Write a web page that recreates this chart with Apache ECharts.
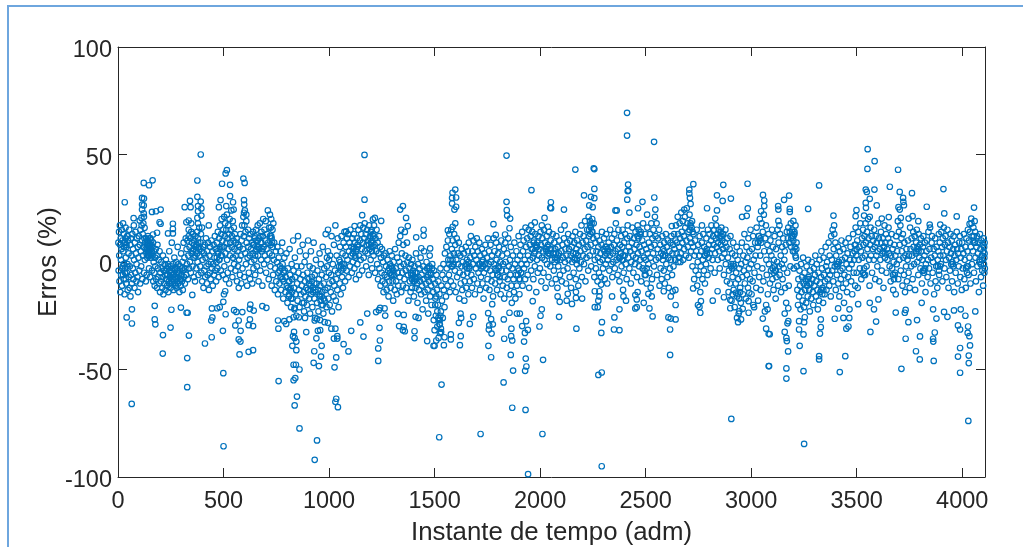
<!DOCTYPE html>
<html>
<head>
<meta charset="utf-8">
<title>Erros</title>
<script src="https://cdn.jsdelivr.net/npm/echarts@6/dist/echarts.min.js"></script>
<style>
  html, body { margin: 0; padding: 0; background: #fff; overflow: hidden; }
  #frame { position: absolute; left: 7px; top: 5px; width: 1100px; height: 540px; border-left: 2px solid #6ea6de; border-top: 2px solid #6ea6de; border-bottom: 2px solid #bcdcf4; }
  #chart { position: absolute; left: 0; top: 0; width: 1023px; height: 547px; }
</style>
</head>
<body>
<div id="frame"></div>
<div id="chart"></div>
<script>
const xTicks = [0, 500, 1000, 1500, 2000, 2500, 3000, 3500, 4000];
const yTicks = [-100, -50, 0, 50, 100];

// values: [instant, error %]
// points that stand clear of the band
const far0 = [[32,27.8],[122,36.8],[147,35.7],[164,38],[114,29.8],[123,29.5],[114,26.7],[122,26.3],[114,24.4],[122,22.6],[111,20.5],[123,21],[103,19.3],[161,23.3],[180,23.6],[202,24.4],[74,20.4],[392,50],[376,37.9],[376,30.3],[316,25.5],[344,25.5],[341,28.4],[392,28.1],[379,26],[395,24.9],[379,23.6],[376,20.5],[395,21.6],[335,19.3],[324,18.5],[347,18],[379,18],[398,16],[430,17],[335,15],[260,17.8],[197,18.5],[202,17.8],[126,15.9],[260,15.4],[185,13.6],[237,13.3],[260,13.3],[166,12.8],[493,36.4],[65,-66],[328,-58.2],[212,-42.6],[328,-44.7],[500,-85.7],[499,-51.7],[497,-32],[412,-37.9],[444,-35],[336,-34.2],[213,-34],[249,-30.5],[174,-26.7],[177,-29],[66,-28.6],[41,-25.8],[66,-22],[174,-20.4],[253,-22.2],[298,-21.2],[325,-23.6],[330,-23.6],[352,-15.3],[442,-27.2],[447,-25.8],[445,-21.6],[470,-21.5],[482,-21],[499,-18.5]];
const far500 = [[510,41.2],[516,42.7],[531,35.9],[594,38.8],[600,36.8],[531,30.6],[486,28.8],[545,27.8],[597,28.8],[598,26.7],[513,26],[478,25.5],[548,24.4],[597,22.9],[608,22],[510,-24.3],[502,-15],[508,-13.6],[572,-36],[580,-37],[576,-43],[619,-41.8],[640,-41],[556,-29.5],[581,-32],[572,-27.2],[589,-23.3],[550,-22.4],[561,-23.2],[619,-29.4],[640,-29.8],[625,-26.7],[625,-21.8],[627,-19.8],[643,-22.6],[684,-20.5],[703,-21.3],[761,-55.4],[758,-27.2],[760,-31],[788,-27.5],[797,-28.8],[812,-26.7],[832,-25.7],[857,-25.7],[886,-26],[837,-21.3],[881,-19],[826,-39],[834,-32.5],[829,-34.5],[837,-35.3],[845,-37],[845,-41],[832,-47.8],[843,-47.8],[860,-50],[840,-54],[832,-55],[848,-62.6],[837,-66.7],[860,-77.4],[943,-83],[932,-92],[892,-32.6],[930,-41.5],[927,-46.9],[952,-48.4],[962,-44],[965,-39],[940,-35.5],[947,-32],[958,-31.7],[932,-27.2],[943,-26.4],[958,-27],[979,-28],[995,-28.3]];
const far1000 = [[1026,-49],[1034,-44.4],[1011,-31],[1023,-35.6],[1030,-31],[1034,-63.6],[1030,-65],[1042,-67.5],[1168,49.8],[1168,29],[1157,21.8],[1121,16.7],[1081,14.2],[1247,19.1],[1217,20.5],[1208,19.8],[1337,24.4],[1350,26],[1365,20.5],[1373,16.7],[1342,15],[1413,11.5],[1448,15],[1448,12.3],[1479,6.3],[1437,6.4],[1092,-41.6],[1069,-38.2],[1039,-34.5],[1039,-35.6],[1105,-32],[1163,-34.7],[1148,-28.1],[1181,-24],[1233,-46],[1233,-40.2],[1241,-36.5],[1239,-30.6],[1266,-24.9],[1223,-23.3],[1236,-22.4],[1242,-21.3],[1263,-21.6],[1326,-24.1],[1354,-24.6],[1332,-29.8],[1354,-30.2],[1350,-31.7],[1359,-32.2],[1405,-32.2],[1405,-35.4],[1410,-25.5],[1424,-26],[1465,-36.8],[1495,-39],[1500,-39]];
const far1500 = [[1585,32.2],[1598,33.7],[1583,29.8],[1602,30],[1583,27.2],[1602,25.7],[1594,24.4],[1598,18],[1586,16.4],[1563,14.7],[1673,18.5],[1779,17.6],[1841,49.5],[1841,28],[1842,24.1],[1844,21.6],[1858,20.2],[1855,15.7],[1834,12.8],[1790,12.6],[1959,33.4],[1975,18.4],[1958,17],[1544,-38.7],[1577,-33.7],[1577,-36],[1620,-38.7],[1624,-34.5],[1508,-36.5],[1519,-35.3],[1547,-35],[1500,-31.7],[1531,-32.6],[1525,-29],[1533,-57],[1522,-81.5],[1718,-80],[1615,-28.3],[1667,-28.8],[1683,-25.5],[1626,-26],[1623,-24],[1755,-39],[1768,-44.3],[1827,-56],[1830,-35.7],[1757,-31.4],[1759,-29.5],[1770,-33.3],[1776,-29],[1768,-26.6],[1754,-23.8],[1773,-19.6],[1828,-26.7],[1861,-43.2],[1872,-50.5],[1868,-67.8],[1931,-68.8],[1943,-98.7],[1868,-36.5],[1863,-34.5],[1864,-31],[1924,-37],[1928,-33],[1934,-27.5],[1942,-31.6],[1915,-29.8],[1932,-44.9],[1935,-48.6],[1929,-50.6],[1997,-30],[1965,-18.2],[1890,-24],[1904,-24],[1855,-23.6]];
const far2000 = [[2051,27.8],[2048,25.2],[2021,20.5],[2008,17],[2037,16.4],[2052,25],[2113,24.4],[2167,43],[2254,43.6],[2257,43.2],[2208,31],[2257,34],[2241,30.3],[2257,29.7],[2233,26.3],[2249,25.5],[2417,36],[2415,33],[2418,33.2],[2412,69.4],[2412,58.8],[2413,29],[2485,28],[2464,25],[2423,23],[2357,24],[2363,24],[2507,22],[2011,-80],[2014,-45.5],[2008,-22],[2002,-25],[2090,-25.5],[2172,-31],[2126,-18],[2093,-18.5],[2083,-16],[2131,-14.8],[2151,-19.5],[2170,-14],[2170,-16.7],[2199,-17],[2276,-52.5],[2292,-51.4],[2292,-95],[2290,-33],[2293,-28],[2259,-21],[2273,-21],[2276,-18],[2281,-16],[2259,-13.6],[2281,-13.6],[2289,-10.5],[2341,-16],[2376,-22],[2352,-25.8],[2350,-31.4],[2376,-31.7],[2393,-13],[2395,-16],[2407,-18],[2451,-21.6],[2458,-21],[2451,-15.4],[2458,-17.4],[2462,-14],[2491,-19]];
const far2500 = [[2540,55.9],[2541,30],[2546,24.4],[2726,36.2],[2707,33.7],[2707,31.9],[2710,29.8],[2713,27],[2683,24.4],[2868,35.9],[2983,36.4],[2838,31],[2865,28.4],[2904,29.5],[2791,25],[2838,24],[2984,24.9],[2957,21],[2979,21.5],[2624,16.7],[2767,17],[2830,20.2],[2518,-21.6],[2533,-25.3],[2529,-16],[2513,-14.8],[2524,-12],[2586,-13.6],[2608,-25.8],[2619,-26.3],[2642,-26.7],[2616,-31.4],[2616,-43.2],[2642,-20],[2619,-16],[2628,-13.6],[2641,-13],[2725,-12.3],[2759,-23.6],[2755,-20.9],[2762,-18.2],[2748,-20],[2818,-18],[2841,-13.6],[2871,-16.4],[2901,-17.6],[2901,-21.5],[2906,-73],[2912,-15],[2928,-14.3],[2933,-26],[2938,-28],[2952,-26.7],[2944,-22.9],[2960,-21.8],[2988,-23.6],[2991,-14.3],[2988,-18.2]];
const far3000 = [[3056,31.2],[3062,28.6],[3062,26],[3047,23.6],[3322,35.6],[3180,30.9],[3156,28.9],[3128,26],[3129,24.4],[3183,24.7],[3183,23.3],[3270,24.7],[3390,21.6],[3393,17],[3200,19.1],[3129,19.1],[3134,17],[3010,-20],[3055,-26.3],[3071,-31],[3083,-33.4],[3083,-48.4],[3071,-20],[3078,-22],[3085,-48.4],[3088,-33.6],[3175,-41.6],[3167,-49.5],[3167,-54.2],[3169,-36.8],[3159,-24],[3176,-21.5],[3176,-27.5],[3172,-28.5],[3159,-32.5],[3167,-35.3],[3230,-39],[3248,-50.8],[3251,-84.6],[3227,-27.5],[3227,-31.4],[3248,-33.7],[3254,-25.7],[3251,-28],[3322,-43.8],[3322,-45.3],[3326,-33.3],[3330,-30.3],[3330,-26.7],[3396,-26.4],[3420,-51.2],[3446,-43.8],[3451,-31],[3461,-30],[3465,-26],[3437,-26],[3412,-21.6]];
const far3500 = [[3552,52.5],[3585,46.9],[3551,43.3],[3543,33.7],[3548,32.6],[3584,33.7],[3562,29.4],[3543,27.5],[3544,25.2],[3595,26.3],[3499,24.1],[3495,21.3],[3535,21.6],[3562,21],[3619,20.2],[3652,20.9],[3696,42.9],[3657,35],[3704,32.6],[3720,29.8],[3721,28],[3724,26.4],[3698,25.5],[3704,24.4],[3709,20.5],[3762,32],[3832,25.7],[3746,20.2],[3765,21.3],[3792,19],[3911,33.9],[3915,22.6],[3974,21.2],[3896,17.4],[4056,25.3],[4043,20.2],[4059,19],[4035,17.7],[3846,17.4],[3507,-19.6],[3565,-32.5],[3592,-27.7],[3582,-22],[3603,-17.4],[3562,-19],[3685,-23.5],[3712,-49.7],[3732,-35.7],[3745,-28],[3786,-27],[3800,-34.6],[3781,-41.5],[3799,-45.3],[3732,-22.3],[3728,-23.6],[3808,-19],[3865,-46],[3862,-35.7],[3863,-37],[3870,-32.8],[3878,-26.3],[3862,-22],[3914,-23.2],[3930,-25.5],[3961,-22.5],[3980,-29.5],[3990,-31.4],[3990,-40],[3980,-44],[3990,-51.5],[4026,-33],[4034,-34.5],[4037,-38.8],[4031,-43.5],[4031,-47],[4029,-73.9],[4028,-30],[4015,-25],[4062,-23],[3993,-22]];

// the dense band, column by column
const band0 = [[2,9],[3,-4],[5,14],[6,3],[7,-9],[9,17],[10,8],[11,-14],[13,11],[14,1],[15,-6],[17,6],[18,15],[19,-11],[21,10],[22,-2],[24,18],[25,5],[27,-8],[28,13],[29,7],[31,-15],[33,-3],[34,9],[36,16],[37,2],[39,-10],[40,7],[42,-5],[44,12],[45,-1],[46,-13],[48,10],[50,4],[51,-7],[53,15],[55,-12],[56,-2],[58,8],[59,-16],[61,11],[62,-6],[64,3],[66,-10],[68,13],[70,-3],[71,6],[73,-8],[75,17],[76,1],[78,-12],[80,9],[82,-5],[83,14],[85,4],[87,-9],[88,-1],[90,11],[92,-7],[94,7],[95,-14],[97,2],[99,12],[101,-4],[103,8],[105,-10],[106,15],[108,5],[110,-2],[112,17],[114,10],[115,-8],[117,13],[118,3],[120,18],[122,7],[123,-5],[125,11],[127,1],[129,9],[131,6],[132,-9],[134,11],[135,4],[136,-6],[138,8],[139,2],[141,10],[142,12],[143,5],[145,7],[146,3],[147,-3],[149,9],[150,6],[151,11],[152,-7],[154,4],[155,8],[157,2],[158,10],[160,5],[161,-4],[163,7],[164,3],[166,9],[167,-9],[169,0],[170,5],[172,-5],[174,-11],[176,2],[177,-2],[179,6],[181,-8],[183,3],[185,-12],[187,8],[189,-3],[191,-7],[193,1],[195,-10],[197,5],[199,-14],[201,-5],[203,-9],[205,0],[207,-3],[209,-12],[211,-7],[213,3],[215,-15],[217,-4],[219,-10],[221,-1],[223,-6],[225,-13],[227,1],[229,-8],[231,-3],[233,-11],[235,-6],[237,-1],[239,-14],[241,-9],[243,5],[245,-4],[247,-7],[249,-12],[251,-2],[253,-10],[255,9],[257,-5],[259,-8],[261,-1],[263,-13],[265,-6],[267,2],[269,-10],[271,-4],[273,-8],[275,0],[277,-12],[279,-3],[281,-7],[283,7],[285,-10],[287,-1],[289,-5],[291,-14],[293,-8],[295,-2],[297,-11],[299,4],[301,-6],[303,-9],[305,0],[307,-13],[309,-4],[311,9],[313,-7],[315,2],[317,-10],[319,-3],[321,11],[323,-6],[325,6],[327,-1],[329,10],[331,-8],[333,3],[335,12],[337,-3],[339,7],[341,0],[343,11],[345,-5],[347,14],[349,4],[351,9],[353,-2],[355,13],[357,6],[359,-7],[361,10],[363,2],[365,-9],[367,12],[369,5],[371,-3],[373,8],[375,14],[377,0],[379,11],[381,-6],[383,7],[385,16],[387,3],[389,-2],[391,9],[393,13],[395,-5],[397,5],[399,-9],[401,1],[403,7],[405,-12],[407,4],[409,-4],[411,8],[413,-7],[415,2],[417,11],[419,-2],[421,-10],[423,5],[425,-6],[427,9],[429,-1],[431,-13],[433,3],[435,-5],[437,7],[439,-8],[441,0],[443,10],[445,-3],[447,5],[449,-11],[451,-1],[453,8],[455,-6],[457,2],[459,12],[461,-4],[463,6],[465,-9],[467,0],[469,9],[471,-3],[473,14],[475,4],[477,-7],[479,11],[481,1],[483,17],[485,7],[487,-4],[489,13],[491,20],[493,3],[495,10],[497,-6],[499,15]];
const band500 = [[501,7],[503,21],[504,-2],[506,12],[508,18],[509,4],[511,-8],[513,15],[514,9],[516,22],[517,1],[519,11],[520,-5],[522,17],[524,6],[525,13],[527,-10],[529,20],[530,3],[532,9],[534,15],[535,-3],[537,24],[539,7],[540,12],[542,-7],[544,19],[545,2],[547,10],[549,16],[550,-1],[552,6],[554,13],[556,-4],[558,9],[560,3],[562,11],[564,-9],[566,5],[568,-2],[570,8],[572,-12],[574,1],[576,7],[578,-6],[580,13],[582,3],[584,-10],[586,10],[588,17],[590,-3],[592,6],[594,21],[596,12],[598,-7],[599,17],[601,24],[603,4],[604,14],[606,-1],[608,19],[610,9],[612,-11],[614,2],[616,15],[618,7],[620,-5],[622,11],[624,3],[626,-8],[628,13],[630,6],[632,0],[634,9],[636,-10],[638,4],[640,14],[642,-3],[644,8],[646,1],[648,12],[650,-6],[652,5],[654,15],[656,10],[658,-2],[660,7],[662,17],[664,3],[666,-9],[668,11],[670,6],[672,18],[674,-4],[676,9],[678,1],[680,14],[682,5],[684,-11],[686,12],[688,20],[690,7],[692,-1],[694,15],[696,3],[698,10],[700,19],[702,-5],[704,6],[706,13],[708,1],[710,24],[712,9],[714,-8],[716,16],[718,4],[720,22],[722,-2],[724,8],[726,12],[728,-11],[730,3],[733,7],[735,-6],[738,1],[740,9],[743,-13],[745,-3],[748,5],[750,-9],[753,0],[755,7],[758,-15],[760,-5],[762,2],[765,-10],[768,-2],[770,5],[773,-13],[775,-7],[778,9],[780,-1],[783,-17],[785,-9],[788,2],[790,-4],[793,-14],[795,-7],[798,4],[800,-11],[803,-19],[805,-3],[808,-9],[810,-15],[813,6],[815,-6],[818,-12],[820,-21],[823,-1],[825,-8],[827,-17],[830,10],[832,-4],[834,-12],[836,-22],[838,2],[840,-7],[842,-15],[845,-25],[847,-2],[849,-10],[851,-18],[853,12],[855,-5],[858,-13],[860,-21],[862,5],[864,-8],[866,-15],[869,-2],[871,-11],[873,-19],[875,8],[877,-6],[880,-14],[882,-23],[884,0],[886,-9],[888,-16],[890,3],[892,-12],[895,-20],[897,-5],[899,-13],[901,10],[903,-8],[906,-17],[908,-2],[910,-24],[912,-11],[914,5],[916,-15],[919,-7],[921,-21],[923,-3],[925,-12],[927,9],[930,-17],[932,-6],[934,-26],[936,-14],[938,1],[941,-10],[943,-19],[945,-4],[948,-13],[950,-23],[952,-8],[955,4],[957,-16],[959,-11],[961,-1],[964,-20],[966,-6],[968,-14],[970,7],[973,-24],[975,-10],[977,-3],[979,-18],[982,-13],[984,13],[986,-7],[988,-21],[990,-2],[993,-12],[995,15],[997,-17],[999,-5]];
const band1000 = [[1001,-10],[1003,-20],[1005,3],[1008,-14],[1010,-6],[1012,12],[1014,-23],[1016,-9],[1018,-1],[1021,-16],[1023,8],[1025,-11],[1028,-4],[1030,17],[1032,-18],[1034,-8],[1036,3],[1039,-13],[1041,11],[1043,-5],[1045,-21],[1048,1],[1050,-10],[1052,7],[1055,-15],[1057,-2],[1059,12],[1062,-7],[1064,4],[1066,-12],[1069,9],[1071,-1],[1073,14],[1076,-9],[1078,3],[1080,7],[1083,-4],[1085,11],[1087,1],[1090,13],[1092,-7],[1094,5],[1097,9],[1099,-2],[1101,15],[1104,3],[1106,7],[1108,-5],[1111,11],[1113,0],[1115,6],[1118,13],[1120,-3],[1122,9],[1125,2],[1127,-8],[1129,5],[1132,11],[1134,-1],[1136,7],[1139,15],[1141,3],[1143,-6],[1146,10],[1148,17],[1150,1],[1153,13],[1155,6],[1157,-4],[1160,9],[1162,16],[1164,2],[1167,11],[1169,18],[1171,5],[1174,13],[1176,-2],[1178,8],[1181,15],[1183,4],[1185,10],[1188,-6],[1190,17],[1192,6],[1195,12],[1197,1],[1199,9],[1202,15],[1204,-3],[1206,7],[1209,12],[1211,3],[1213,17],[1216,8],[1218,-5],[1220,11],[1223,5],[1225,15],[1228,-1],[1230,9],[1232,-8],[1235,4],[1237,12],[1239,-3],[1242,7],[1244,-11],[1246,2],[1249,-5],[1251,6],[1253,-9],[1256,0],[1258,-14],[1260,3],[1263,-6],[1265,-10],[1268,4],[1270,-2],[1273,-13],[1275,-7],[1277,1],[1280,-4],[1282,-16],[1285,-9],[1287,5],[1289,-1],[1292,-12],[1294,-6],[1297,3],[1299,-3],[1301,-9],[1304,-18],[1306,0],[1309,-6],[1311,-13],[1313,6],[1316,-3],[1318,-9],[1321,-15],[1323,2],[1325,-5],[1328,-11],[1330,9],[1333,0],[1335,-7],[1337,12],[1340,-2],[1342,-14],[1345,4],[1347,-5],[1350,-11],[1352,8],[1354,-1],[1357,-8],[1359,14],[1362,3],[1364,-4],[1366,-12],[1369,9],[1371,0],[1374,-6],[1376,-18],[1378,2],[1381,-3],[1383,-9],[1386,-14],[1388,-1],[1390,-6],[1393,-12],[1395,1],[1398,-4],[1400,-9],[1402,-16],[1405,-2],[1407,-7],[1410,-12],[1412,4],[1414,-5],[1417,-10],[1419,-19],[1422,-1],[1424,-7],[1426,-13],[1429,-3],[1431,-9],[1434,2],[1436,-15],[1438,-6],[1441,-11],[1443,-22],[1446,-2],[1448,-8],[1450,5],[1453,-14],[1455,-4],[1458,-10],[1460,-18],[1462,0],[1465,-7],[1467,-13],[1470,-24],[1472,-3],[1474,-9],[1477,3],[1479,-16],[1482,-6],[1484,-11],[1486,-20],[1489,-1],[1491,-8],[1494,-14],[1496,-27],[1498,-4]];
const band1500 = [[1502,-10],[1504,-17],[1506,-25],[1509,-6],[1511,-13],[1513,-30],[1516,-20],[1518,-9],[1520,-27],[1523,-15],[1525,-33],[1528,-3],[1530,-23],[1532,-11],[1535,-18],[1537,-6],[1539,-26],[1542,-1],[1544,-13],[1547,-21],[1549,4],[1551,-8],[1554,-16],[1556,7],[1558,-3],[1561,-11],[1563,10],[1565,1],[1568,-6],[1570,13],[1572,-14],[1575,3],[1577,-9],[1579,15],[1582,6],[1584,-2],[1586,10],[1589,-11],[1591,4],[1593,13],[1596,-4],[1598,8],[1600,-14],[1603,1],[1605,11],[1607,-7],[1610,4],[1612,-1],[1615,9],[1617,-17],[1619,-5],[1622,3],[1624,-10],[1627,-2],[1629,6],[1631,-13],[1634,0],[1636,-6],[1639,4],[1641,-18],[1643,-9],[1646,-2],[1648,7],[1650,-12],[1653,1],[1655,-5],[1658,5],[1660,-15],[1662,9],[1665,-3],[1667,-9],[1669,2],[1672,12],[1674,-6],[1677,-12],[1679,5],[1681,-1],[1684,10],[1686,-8],[1688,3],[1691,-15],[1693,7],[1696,-3],[1698,1],[1700,11],[1703,-10],[1705,5],[1708,-5],[1710,-1],[1712,9],[1715,-13],[1717,3],[1720,-7],[1722,-2],[1724,6],[1727,-10],[1729,1],[1732,-17],[1734,-5],[1736,4],[1739,-1],[1741,8],[1744,-12],[1746,-3],[1748,2],[1751,-8],[1753,11],[1756,-1],[1758,5],[1760,-13],[1763,-4],[1765,8],[1768,0],[1770,-9],[1772,3],[1775,-6],[1777,-16],[1780,11],[1782,-1],[1784,5],[1787,-10],[1789,-3],[1792,9],[1794,1],[1796,-13],[1799,-6],[1801,4],[1804,-2],[1806,7],[1808,-9],[1811,0],[1813,-15],[1816,10],[1818,-4],[1820,3],[1823,-11],[1825,-1],[1828,6],[1830,-17],[1832,-7],[1835,9],[1837,0],[1840,-4],[1842,-12],[1844,4],[1847,-8],[1849,11],[1852,-2],[1854,-15],[1857,1],[1859,-6],[1861,7],[1864,-11],[1866,-19],[1869,-3],[1871,3],[1874,-8],[1876,-14],[1878,9],[1881,-1],[1883,-17],[1886,-6],[1888,5],[1890,-11],[1893,1],[1895,-3],[1898,12],[1900,-8],[1902,-15],[1905,3],[1907,8],[1910,-5],[1912,-1],[1915,14],[1917,-11],[1919,5],[1922,10],[1924,-3],[1927,1],[1929,-8],[1931,16],[1934,7],[1936,-1],[1939,11],[1941,-6],[1943,3],[1946,15],[1948,-12],[1951,8],[1953,1],[1955,12],[1958,-4],[1960,6],[1963,14],[1965,2],[1968,-8],[1970,10],[1972,4],[1975,-2],[1977,13],[1980,7],[1982,-14],[1985,1],[1987,9],[1989,-5],[1992,12],[1994,3],[1997,6]];
const band2000 = [[1999,-3],[2002,14],[2004,8],[2006,-9],[2009,2],[2011,11],[2014,5],[2016,-5],[2018,15],[2021,1],[2023,9],[2026,-12],[2028,6],[2031,12],[2033,-1],[2035,3],[2038,8],[2040,-7],[2043,14],[2045,4],[2048,-2],[2050,10],[2052,6],[2055,-10],[2057,1],[2060,13],[2062,4],[2065,-4],[2067,9],[2069,0],[2072,6],[2074,-8],[2077,12],[2079,2],[2082,-12],[2084,7],[2086,-2],[2089,4],[2091,10],[2094,-6],[2096,1],[2099,15],[2101,5],[2103,-9],[2106,8],[2108,2],[2111,-4],[2113,11],[2116,17],[2118,0],[2120,6],[2123,-10],[2125,3],[2128,9],[2130,-3],[2133,13],[2135,1],[2137,6],[2140,-7],[2142,10],[2145,3],[2147,-12],[2150,7],[2152,0],[2154,12],[2157,4],[2159,-5],[2162,9],[2164,1],[2167,14],[2169,-8],[2172,6],[2174,-1],[2176,10],[2179,3],[2181,-11],[2184,8],[2186,-3],[2189,13],[2191,5],[2193,0],[2196,17],[2198,-7],[2201,9],[2203,3],[2206,12],[2208,-1],[2211,6],[2213,19],[2215,-9],[2218,10],[2220,2],[2223,15],[2225,7],[2228,-4],[2230,21],[2232,12],[2235,3],[2237,17],[2240,8],[2242,-2],[2245,14],[2247,20],[2250,5],[2252,11],[2254,18],[2257,-7],[2259,1],[2262,9],[2264,-3],[2267,5],[2269,12],[2272,-9],[2274,2],[2276,7],[2279,-5],[2281,10],[2284,0],[2286,4],[2289,-7],[2291,8],[2293,14],[2296,1],[2298,-3],[2301,6],[2303,11],[2306,-8],[2308,3],[2311,-1],[2313,13],[2315,7],[2318,-10],[2320,1],[2323,5],[2325,9],[2328,-4],[2330,3],[2332,15],[2335,7],[2337,-1],[2340,11],[2342,-7],[2345,4],[2347,0],[2350,8],[2352,13],[2354,-3],[2357,5],[2359,18],[2362,1],[2364,10],[2367,-6],[2369,6],[2371,15],[2374,2],[2376,-9],[2379,8],[2381,4],[2384,12],[2386,-2],[2389,7],[2391,15],[2393,1],[2396,-5],[2398,9],[2401,3],[2403,13],[2406,-1],[2408,5],[2410,-8],[2413,11],[2415,17],[2418,2],[2420,7],[2423,-3],[2425,12],[2427,5],[2430,-10],[2432,0],[2435,9],[2437,16],[2440,3],[2442,-5],[2445,11],[2447,6],[2449,-1],[2452,14],[2454,2],[2457,8],[2459,-7],[2462,17],[2464,4],[2466,11],[2469,-2],[2471,7],[2474,1],[2476,13],[2479,-9],[2481,5],[2484,10],[2486,-3],[2488,18],[2491,2],[2493,8],[2496,-6],[2498,13]];
const band2500 = [[2501,1],[2503,6],[2505,-10],[2508,16],[2510,4],[2513,-1],[2515,9],[2518,-5],[2520,13],[2523,2],[2525,7],[2527,18],[2530,-8],[2532,11],[2535,4],[2537,15],[2540,-2],[2542,8],[2544,21],[2547,12],[2549,1],[2552,18],[2554,-6],[2557,6],[2559,11],[2562,2],[2564,15],[2566,-11],[2569,8],[2571,-3],[2574,4],[2576,-8],[2579,12],[2581,1],[2583,6],[2586,-4],[2588,9],[2591,-10],[2593,3],[2596,13],[2598,-1],[2600,7],[2603,-7],[2605,10],[2608,2],[2610,-12],[2613,5],[2615,-3],[2618,9],[2620,1],[2622,12],[2625,-6],[2627,4],[2630,8],[2632,-2],[2635,13],[2637,6],[2640,1],[2642,10],[2644,17],[2647,4],[2649,9],[2652,21],[2654,13],[2657,2],[2659,7],[2661,18],[2664,11],[2666,4],[2669,23],[2671,14],[2674,9],[2676,19],[2678,1],[2681,12],[2683,6],[2686,21],[2688,16],[2691,3],[2693,10],[2695,25],[2698,18],[2700,7],[2703,14],[2705,2],[2708,22],[2710,11],[2713,17],[2715,5],[2717,9],[2720,19],[2722,-2],[2725,7],[2727,13],[2730,-8],[2732,3],[2734,10],[2737,-4],[2739,5],[2742,15],[2744,-11],[2747,0],[2749,8],[2751,-6],[2754,3],[2756,12],[2759,-14],[2761,-2],[2764,5],[2766,9],[2769,-8],[2771,1],[2773,13],[2776,-4],[2778,7],[2781,-10],[2783,3],[2786,-1],[2788,11],[2790,6],[2793,-6],[2795,15],[2798,2],[2800,8],[2803,13],[2805,4],[2808,-3],[2810,10],[2812,17],[2815,6],[2817,1],[2820,12],[2822,8],[2825,15],[2827,-5],[2829,4],[2832,11],[2834,17],[2837,7],[2839,13],[2842,1],[2844,9],[2846,15],[2849,5],[2851,-3],[2854,12],[2856,8],[2859,16],[2861,2],[2863,10],[2866,6],[2868,13],[2871,-6],[2873,4],[2876,9],[2878,15],[2880,-1],[2883,7],[2885,-9],[2888,11],[2890,2],[2893,-14],[2895,-4],[2898,6],[2900,-10],[2902,12],[2905,-1],[2907,-18],[2910,4],[2912,-7],[2915,9],[2917,-13],[2919,-2],[2922,-21],[2924,3],[2927,-10],[2929,-5],[2932,7],[2934,-16],[2936,1],[2939,-8],[2941,-24],[2944,-3],[2946,5],[2948,-12],[2951,-19],[2953,-1],[2956,9],[2958,-7],[2961,-15],[2963,3],[2965,-4],[2968,13],[2970,-10],[2973,0],[2975,-17],[2978,7],[2980,-6],[2982,2],[2985,-12],[2987,11],[2990,-3],[2992,5],[2995,-8],[2997,15]];
const band3000 = [[3000,-1],[3002,-15],[3004,6],[3007,-9],[3009,12],[3012,1],[3014,-21],[3016,-5],[3019,9],[3021,3],[3024,-12],[3026,16],[3029,-2],[3031,7],[3033,-18],[3036,12],[3038,-7],[3041,20],[3043,3],[3045,-13],[3048,9],[3050,18],[3053,-3],[3055,14],[3058,-9],[3060,22],[3062,5],[3065,-23],[3067,11],[3070,17],[3072,1],[3074,-6],[3077,8],[3079,-15],[3082,13],[3084,-1],[3087,5],[3089,-10],[3091,10],[3094,-4],[3096,3],[3099,15],[3101,-8],[3103,7],[3106,-13],[3108,1],[3111,12],[3113,-4],[3116,-17],[3118,6],[3120,-7],[3123,0],[3125,15],[3128,-11],[3130,9],[3132,-2],[3135,-6],[3137,13],[3140,3],[3142,-14],[3145,-1],[3147,7],[3149,-8],[3152,11],[3154,-3],[3157,1],[3159,5],[3161,-12],[3164,8],[3166,-19],[3169,14],[3171,-5],[3174,11],[3176,16],[3178,-11],[3181,9],[3183,14],[3186,-2],[3188,18],[3190,7],[3193,12],[3195,15],[3198,5],[3200,10],[3202,-3],[3205,13],[3207,7],[3210,17],[3212,2],[3215,9],[3217,-2],[3219,-13],[3222,-20],[3224,-8],[3227,-16],[3229,-4],[3232,-11],[3234,-22],[3236,-1],[3239,-14],[3241,-7],[3244,-18],[3246,2],[3249,-10],[3251,-21],[3253,-5],[3256,-13],[3258,-8],[3261,-19],[3263,-2],[3265,-11],[3268,-16],[3270,1],[3273,-7],[3275,-13],[3278,-23],[3280,-4],[3282,-10],[3285,-17],[3287,0],[3290,-8],[3292,-14],[3294,-20],[3297,-3],[3299,-11],[3302,-6],[3304,3],[3307,-16],[3309,-9],[3311,-1],[3314,-13],[3316,-22],[3319,-5],[3321,-18],[3324,1],[3326,-10],[3328,-14],[3331,-7],[3333,5],[3336,-3],[3338,-12],[3341,-19],[3343,2],[3345,-6],[3348,-15],[3350,-9],[3353,7],[3355,-2],[3357,-13],[3360,0],[3362,-8],[3365,-4],[3367,9],[3370,-11],[3372,3],[3374,-6],[3377,-16],[3379,12],[3382,1],[3384,-4],[3386,15],[3389,-9],[3391,6],[3394,13],[3396,-2],[3399,9],[3401,-13],[3403,3],[3406,-6],[3408,-1],[3411,7],[3413,-10],[3416,0],[3418,-16],[3420,5],[3423,-4],[3425,-8],[3428,10],[3430,1],[3433,-3],[3435,-12],[3437,6],[3440,-19],[3442,-6],[3445,2],[3447,9],[3449,-10],[3452,-1],[3454,-14],[3457,4],[3459,-7],[3462,11],[3464,-3],[3466,-22],[3469,1],[3471,7],[3474,-9],[3476,-1],[3479,-15],[3481,4],[3483,13],[3486,-5],[3488,1],[3491,8],[3493,-11],[3495,16],[3498,3]];
const band3500 = [[3500,-5],[3503,10],[3505,-12],[3508,14],[3510,1],[3513,7],[3515,-3],[3517,18],[3520,5],[3522,-8],[3525,11],[3527,2],[3530,15],[3532,8],[3534,-6],[3537,12],[3539,3],[3542,18],[3544,9],[3547,-2],[3549,14],[3551,6],[3554,20],[3556,11],[3559,1],[3561,-11],[3564,8],[3566,16],[3568,3],[3571,12],[3573,-5],[3576,6],[3578,10],[3581,1],[3583,15],[3585,7],[3588,-8],[3590,12],[3593,3],[3595,9],[3598,-2],[3600,5],[3602,18],[3605,11],[3607,-9],[3610,6],[3612,1],[3615,14],[3617,9],[3619,-4],[3622,4],[3624,11],[3627,-12],[3629,7],[3632,17],[3634,2],[3636,9],[3639,13],[3641,-5],[3644,6],[3646,1],[3649,11],[3651,16],[3653,4],[3656,-2],[3658,9],[3661,-9],[3663,3],[3666,13],[3668,-3],[3670,6],[3673,-13],[3675,0],[3678,8],[3680,-6],[3683,3],[3685,-15],[3687,12],[3690,-1],[3692,5],[3695,19],[3697,-8],[3700,14],[3702,1],[3704,8],[3707,17],[3709,-4],[3712,11],[3714,5],[3717,-11],[3719,13],[3721,2],[3724,-6],[3726,9],[3729,-14],[3731,3],[3734,-2],[3736,6],[3738,-9],[3741,1],[3743,10],[3746,-5],[3748,3],[3751,-12],[3753,16],[3755,6],[3758,-2],[3760,11],[3763,3],[3765,-8],[3768,14],[3770,7],[3772,-1],[3775,12],[3777,-13],[3780,4],[3782,9],[3785,15],[3787,0],[3789,6],[3792,-6],[3794,13],[3797,2],[3799,8],[3802,-3],[3804,11],[3806,5],[3809,-10],[3811,1],[3814,7],[3816,12],[3819,-4],[3821,3],[3823,9],[3826,-14],[3828,-1],[3831,5],[3833,10],[3836,-7],[3838,1],[3840,14],[3843,-3],[3845,6],[3848,16],[3850,-10],[3853,2],[3855,9],[3857,12],[3860,-5],[3862,0],[3865,6],[3867,-15],[3870,3],[3872,11],[3874,-9],[3877,-2],[3879,7],[3882,-12],[3884,1],[3887,5],[3889,13],[3891,-6],[3894,9],[3896,3],[3899,-1],[3901,14],[3904,7],[3906,-9],[3908,11],[3911,3],[3913,16],[3916,-3],[3918,8],[3921,12],[3923,1],[3925,-7],[3928,5],[3930,15],[3933,9],[3935,-12],[3938,2],[3940,7],[3942,-4],[3945,13],[3947,4],[3950,10],[3952,-9],[3955,-1],[3957,6],[3959,12],[3962,-14],[3964,3],[3967,8],[3969,-5],[3972,1],[3974,14],[3976,6],[3979,-10],[3981,4],[3984,-2],[3986,9],[3989,12],[3991,-7],[3993,2],[3996,6],[3998,-13]];
const band4000 = [[4000,9],[4003,-3],[4005,4],[4008,13],[4010,-8],[4012,1],[4015,7],[4017,-12],[4020,11],[4022,-2],[4025,5],[4027,15],[4030,-6],[4032,10],[4034,2],[4037,14],[4039,-10],[4041,7],[4044,18],[4046,-1],[4049,12],[4051,5],[4053,16],[4056,-5],[4058,9],[4061,14],[4063,2],[4065,-9],[4068,7],[4070,12],[4072,-2],[4075,4],[4077,9],[4079,-14],[4082,1],[4084,13],[4086,6],[4089,-7],[4091,10],[4093,3],[4095,-4],[4097,8],[4099,-11],[4101,5],[4102,11],[4103,-1],[4104,7],[4105,2],[4105,-5],[4106,9],[4106,4],[4107,-3]];

// clumps where the band goes solid
const clumps0 = [[20,-3],[24,-6],[28,-1],[33,-5],[37,-8],[41,-2],[30,9],[35,11],[40,8],[45,12],[138,6],[142,9],[146,5],[150,8],[154,11],[140,3],[148,3],[156,6],[225,-4],[231,-8],[238,-2],[244,-10],[250,-5],[256,-9],[262,-3],[268,-7],[274,-11],[280,-5],[232,-6],[246,-7],[258,-6],[270,-3],[286,-9],[292,-4],[298,-8],[304,-3],[355,5],[360,8],[366,3],[370,7],[375,4],[380,9],[358,2],[385,6],[468,2],[472,5],[478,1],[482,6],[488,3],[494,7]];
const clumps500 = [[640,8],[648,11],[655,6],[662,10],[668,7],[675,12],[680,9],[650,3],[685,6],[720,12],[724,16],[728,11],[732,15],[736,18],[726,20],[730,9],[765,-4],[770,-7],[775,-3],[780,-8],[785,-5],[805,-12],[810,-16],[815,-13],[820,-17],[825,-14],[812,-9],[905,-10],[912,-13],[918,-9],[924,-14],[930,-10],[936,-13],[955,-15],[960,-18],[965,-16],[970,-20],[975,-17],[990,2],[995,5],[1000,1]];
const clumps1000 = [[1048,-2],[1053,0],[1058,-4],[1063,-1],[1068,-3],[1112,4],[1118,7],[1124,3],[1130,6],[1135,8],[1190,8],[1195,11],[1200,7],[1205,10],[1210,13],[1198,14],[1203,5],[1285,-3],[1290,-5],[1295,-2],[1300,-6],[1305,-4],[1388,-5],[1393,-8],[1398,-6],[1403,-9],[1408,-5],[1413,-8],[1465,-3],[1470,-6],[1476,-2],[1482,-5],[1488,-3],[1503,-20],[1508,-16],[1513,-23],[1518,-26],[1523,-29],[1528,-25],[1530,-31],[1525,-27]];
const clumps1500 = [[1570,-1],[1575,1],[1580,-2],[1585,1],[1590,-1],[1650,-1],[1655,-3],[1660,0],[1665,-2],[1715,-1],[1720,-3],[1725,0],[1730,-2],[1793,-4],[1798,-6],[1803,-3],[1808,-7],[1895,-6],[1900,-4],[1905,-8],[1910,-5],[1965,6],[1970,9],[1975,5],[1980,8],[1985,7],[2030,5],[2035,7],[2040,4],[2045,6]];
const clumps2000 = [[2070,2],[2075,4],[2080,1],[2085,3],[2165,2],[2170,4],[2175,1],[2180,3],[2232,15],[2236,19],[2240,16],[2244,18],[2248,14],[2238,13],[2305,5],[2310,7],[2315,4],[2320,6],[2378,2],[2383,4],[2388,1],[2393,3],[2462,12],[2467,15],[2472,13],[2477,14],[2495,-4],[2500,-6],[2505,-3]];
const clumps2500 = [[2582,3],[2587,5],[2592,3],[2655,0],[2660,2],[2665,0],[2708,15],[2713,18],[2718,16],[2723,14],[2780,3],[2785,5],[2790,4],[2850,11],[2855,14],[2860,12],[2865,13],[2905,-2],[2910,-3],[2915,-1],[2938,-15],[2943,-17],[2948,-14],[3032,9],[3036,12],[3040,10],[3044,11]];
const clumps3000 = [[3102,-3],[3107,-5],[3112,-2],[3117,-4],[3190,11],[3195,14],[3200,12],[3205,14],[3206,5],[3210,3],[3214,6],[3260,-9],[3265,-11],[3270,-8],[3275,-10],[3332,-13],[3337,-15],[3342,-13],[3404,-1],[3409,-2],[3414,0],[3490,5],[3495,8],[3500,6]];
const clumps3500 = [[3530,-5],[3535,-3],[3540,-6],[3625,5],[3630,7],[3635,4],[3672,-6],[3677,-8],[3682,-5],[3783,5],[3788,7],[3793,5],[3814,-4],[3819,-5],[3824,-3],[3885,-2],[3890,-4],[3895,-2],[3948,-1],[3953,0],[3958,-2],[4018,-3],[4023,-5],[4028,-2],[4050,10],[4055,12],[4060,9],[4083,0],[4088,-1],[4093,1]];

const errorPoints = [].concat(far0, far500, far1000, far1500, far2000, far2500, far3000, far3500,
  band0, band500, band1000, band1500, band2000, band2500, band3000, band3500, band4000,
  clumps0, clumps500, clumps1000, clumps1500, clumps2000, clumps2500, clumps3000, clumps3500);

const textColor = '#262626';
const chart = echarts.init(document.getElementById('chart'), null, {renderer: 'canvas'});
chart.setOption({
  animation: false,
  backgroundColor: 'transparent',
  grid: {left: 118, right: 38, top: 47, bottom: 70, outerBoundsMode: 'none'},
  xAxis: [
    {type: 'value', min: 0, max: 4108, name: 'Instante de tempo (adm)', nameLocation: 'middle', nameGap: 43,
     nameTextStyle: {fontFamily: 'Liberation Sans', fontSize: 25.8, color: textColor},
     splitLine: {show: false}, axisLine: {onZero: false, lineStyle: {color: textColor, width: 1}},
     axisTick: {inside: true, length: 9, customValues: xTicks, lineStyle: {color: textColor, width: 1}},
     axisLabel: {customValues: xTicks, margin: 13, formatter: v => String(v), fontFamily: 'Liberation Sans', fontSize: 23.5, color: textColor}},
    {type: 'value', position: 'top', min: 0, max: 4108, splitLine: {show: false},
     axisLine: {onZero: false, lineStyle: {color: textColor, width: 1}},
     axisTick: {inside: true, length: 9, customValues: xTicks, lineStyle: {color: textColor, width: 1}},
     axisLabel: {show: false}}
  ],
  yAxis: [
    {type: 'value', min: -100, max: 100, name: 'Erros (%)', nameLocation: 'middle', nameGap: 56, nameMoveOverlap: false,
     nameTextStyle: {fontFamily: 'Liberation Sans', fontSize: 26, color: textColor},
     splitLine: {show: false}, axisLine: {onZero: false, lineStyle: {color: textColor, width: 1}},
     axisTick: {inside: true, length: 9, customValues: yTicks, lineStyle: {color: textColor, width: 1}},
     axisLabel: {customValues: yTicks, margin: 6, verticalAlign: 'top', lineHeight: 8, fontFamily: 'Liberation Sans', fontSize: 23.5, color: textColor}},
    {type: 'value', position: 'right', min: -100, max: 100, splitLine: {show: false},
     axisLine: {onZero: false, lineStyle: {color: textColor, width: 1}},
     axisTick: {inside: true, length: 9, customValues: yTicks, lineStyle: {color: textColor, width: 1}},
     axisLabel: {show: false}}
  ],
  series: [{
    type: 'scatter', xAxisIndex: 0, yAxisIndex: 0, clip: false, symbol: 'circle', symbolSize: 5.5,
    itemStyle: {color: 'transparent', borderColor: '#0072BD', borderWidth: 1.2, opacity: 1},
    data: errorPoints
  }]
});
</script>
</body>
</html>
